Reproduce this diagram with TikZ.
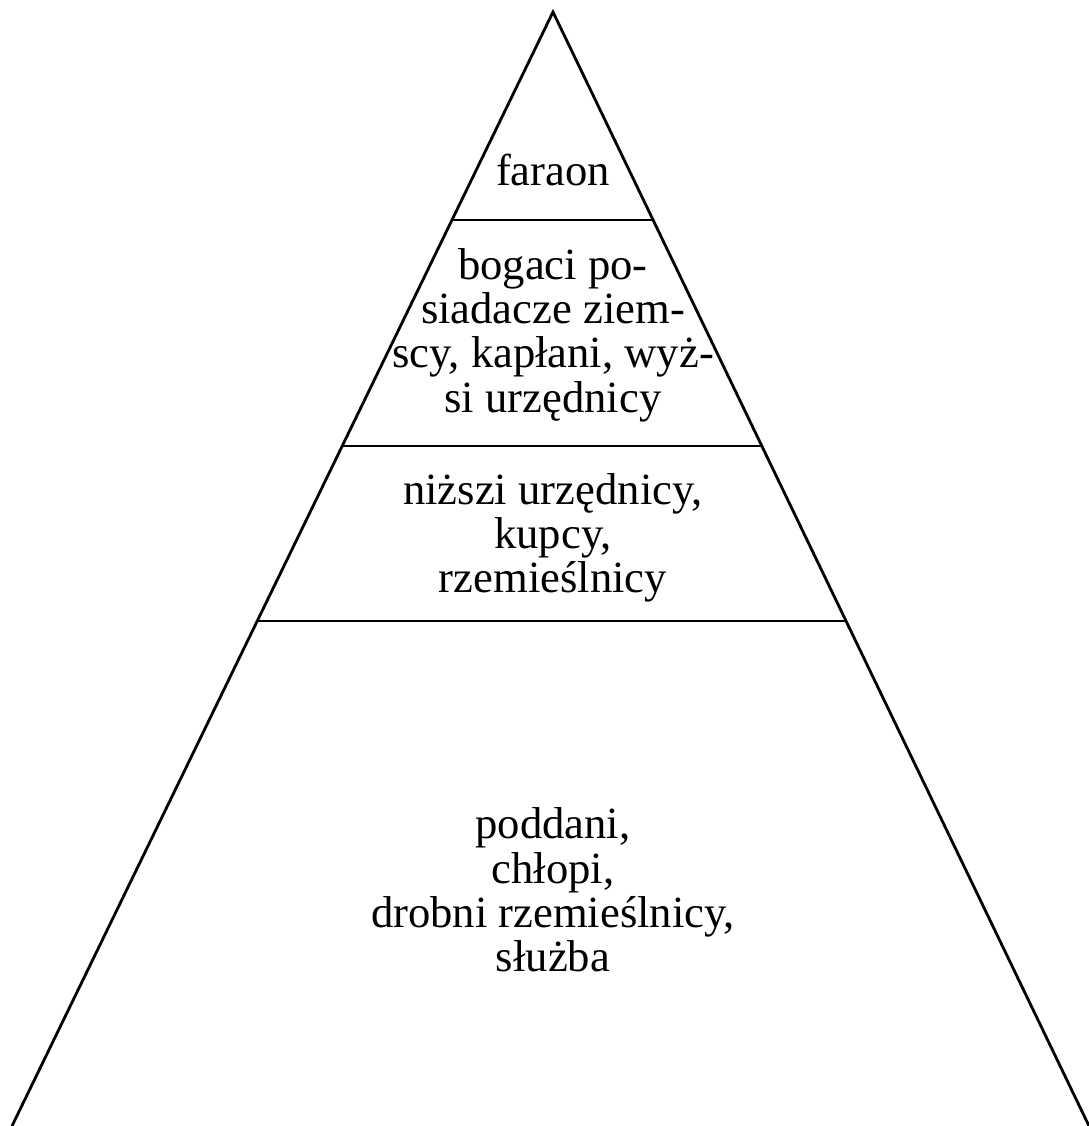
\documentclass[tikz,border=0pt]{standalone}
\usepackage{fontspec}
\setmainfont{Liberation Serif}

\begin{document}
\begin{tikzpicture}[warstwa/.style={align=center, inner sep=0pt, font=\fontsize{12.7}{12.6}\selectfont}]
      \useasboundingbox (0, 0) rectangle (10.89, 11.26);

      % piramida
      \draw[line width=0.8pt] (0.12, 0) -- (5.53, 11.14) -- (10.89, 0);

      \draw[line width=0.8pt] (4.52, 9.06) -- (6.53, 9.06);
      \draw[line width=0.8pt] (3.42, 6.80) -- (7.62, 6.80);
      \draw[line width=0.8pt] (2.57, 5.05) -- (8.46, 5.05);

      % napisy
      \node[warstwa] (faraon) at (5.53, 9.56) {faraon};
      \node[warstwa] (bogaci) at (5.53, 7.91) {bogaci po-\\siadacze ziem-\\scy, kapłani, wyż-\\si urzędnicy};
      \node[warstwa] (nizsi) at (5.53, 5.88) {niższi urzędnicy,\\kupcy,\\rzemieślnicy};
      \node[warstwa] (poddani) at (5.53, 2.36) {poddani,\\chłopi,\\drobni rzemieślnicy,\\służba};
  \end{tikzpicture}
\end{document}
